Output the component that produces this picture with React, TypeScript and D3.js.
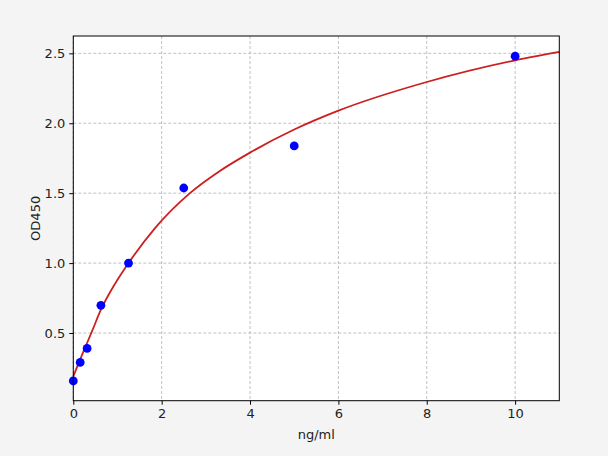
import React, { useEffect, useRef } from 'react';
import * as d3 from 'd3';

// standard points (ng/ml, OD450)
const concentrations = [0, 0.156, 0.3125, 0.625, 1.25, 2.5, 5, 10];
const odValues = [0.157, 0.29, 0.39, 0.698, 1.0, 1.537, 1.838, 2.48];

// fitted curve
const fitX = [0, 0.2, 0.42, 0.63, 0.95, 1.25, 1.85, 2.64, 3.3, 4, 5, 6, 8, 10, 11];
const fitY = [0.19, 0.345, 0.51, 0.67, 0.855, 1.0, 1.25, 1.5, 1.655, 1.79, 1.955, 2.09, 2.295, 2.45, 2.51];

const xTicks = [0, 2, 4, 6, 8, 10];
const yTicks = [0.5, 1.0, 1.5, 2.0, 2.5];

const W = 608;
const H = 456;

export default function App() {
  const svgRef = useRef<SVGSVGElement>(null);

  useEffect(() => {
    if (!svgRef.current) return;
    const root = d3.select(svgRef.current);
    root.selectAll('*').remove();

    const left = 73.3, right = 559.3, top = 36, bottom = 400.7;
    const font = 'DejaVu Sans, sans-serif';

    root.append('rect').attr('width', W).attr('height', H).attr('fill', '#f4f4f4');
    root.append('rect')
      .attr('x', left).attr('y', top)
      .attr('width', right - left).attr('height', bottom - top)
      .attr('fill', '#ffffff');

    const x = d3.scaleLinear().domain([0, 11]).range([left, right]);
    const y = d3.scaleLinear().domain([0.016, 2.624]).range([bottom, top]);

    // grid
    const grid = root.append('g')
      .attr('stroke', '#b0b0b0')
      .attr('stroke-width', 0.8)
      .attr('stroke-dasharray', '3,2');
    grid.selectAll('line.gx').data(xTicks).enter().append('line')
      .attr('x1', d => x(d)).attr('x2', d => x(d))
      .attr('y1', top).attr('y2', bottom);
    grid.selectAll('line.gy').data(yTicks).enter().append('line')
      .attr('x1', left).attr('x2', right)
      .attr('y1', d => y(d)).attr('y2', d => y(d));

    // fitted curve
    const line = d3.line<number>()
      .x((_, i) => x(fitX[i]))
      .y(d => y(d))
      .curve(d3.curveMonotoneX);
    root.append('path')
      .datum(fitY)
      .attr('d', line)
      .attr('fill', 'none')
      .attr('stroke', '#cc1f1f')
      .attr('stroke-width', 1.8);

    // points
    root.append('g').selectAll('circle')
      .data(odValues)
      .enter()
      .append('circle')
      .attr('cx', (_, i) => x(concentrations[i]))
      .attr('cy', d => y(d))
      .attr('r', 4.4)
      .attr('fill', '#0000ff');

    // frame
    root.append('rect')
      .attr('x', left).attr('y', top)
      .attr('width', right - left).attr('height', bottom - top)
      .attr('fill', 'none')
      .attr('stroke', '#000')
      .attr('stroke-width', 1);

    // axes
    const xAxis = d3.axisBottom(x).tickValues(xTicks).tickSize(4).tickPadding(4)
      .tickFormat(d => String(d));
    const gx = root.append('g')
      .attr('transform', `translate(0,${bottom})`)
      .call(xAxis);
    gx.select('.domain').remove();
    gx.selectAll('text').style('font-family', font).style('font-size', '13px').attr('fill', '#222');

    const yAxis = d3.axisLeft(y).tickValues(yTicks).tickSize(4).tickPadding(4)
      .tickFormat(d => d3.format('.1f')(d as number));
    const gy = root.append('g')
      .attr('transform', `translate(${left},0)`)
      .call(yAxis);
    gy.select('.domain').remove();
    gy.selectAll('text').style('font-family', font).style('font-size', '13px').attr('fill', '#222');

    // labels
    root.append('text')
      .attr('x', (left + right) / 2)
      .attr('y', 439)
      .attr('text-anchor', 'middle')
      .style('font-family', font)
      .style('font-size', '13px')
      .attr('fill', '#222')
      .text('ng/ml');

    root.append('text')
      .attr('transform', `translate(40,${(top + bottom) / 2}) rotate(-90)`)
      .attr('text-anchor', 'middle')
      .style('font-family', font)
      .style('font-size', '13px')
      .attr('fill', '#222')
      .text('OD450');
  }, []);

  return (
    <svg
      ref={svgRef}
      width={W}
      height={H}
      style={{ position: 'absolute', left: 0, top: 0, display: 'block' }}
    />
  );
}
